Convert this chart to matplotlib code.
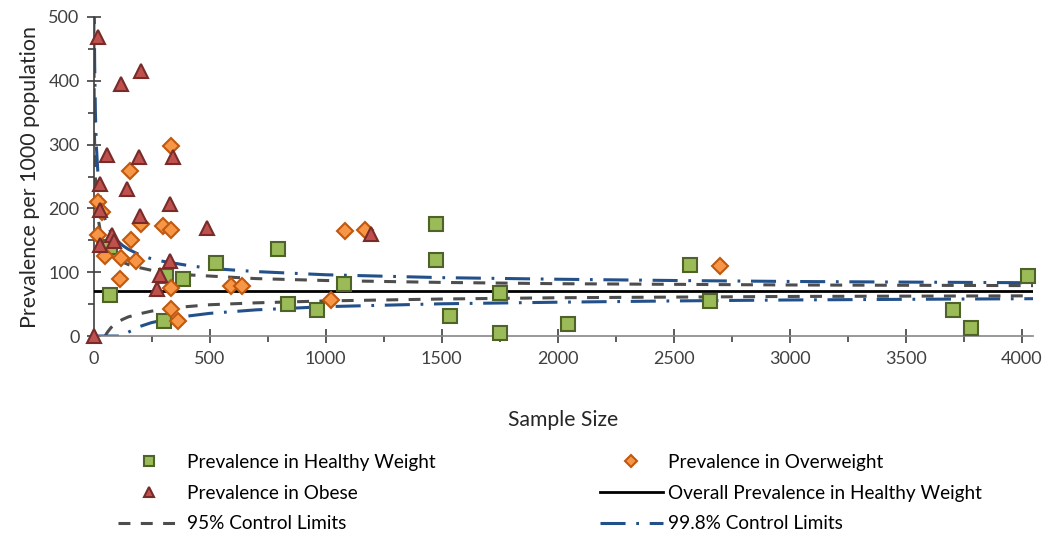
import numpy as np
import matplotlib
matplotlib.use('Agg')
import matplotlib.pyplot as plt
from matplotlib.ticker import MultipleLocator

plt.rcParams['font.family'] = ['Lato', 'DejaVu Sans']

## Points (sample size, prevalence per 1000)
healthy_n = [70, 69, 302, 314, 387, 528, 796, 839, 962, 1081, 1476, 1476, 1535, 1751, 1751, 2046, 2570, 2656, 3704, 3782, 4027]
healthy_prev = [140, 64, 24, 94, 90, 114, 137, 50, 41, 82, 175, 119, 31, 67, 5, 19, 112, 55, 41, 12, 94]

overweight_n = [335, 158, 19, 37, 206, 299, 335, 19, 160, 49, 119, 185, 113, 335, 594, 639, 332, 362, 1085, 1170, 1022, 2699]
overweight_prev = [298, 259, 210, 194, 175, 172, 166, 159, 150, 125, 122, 117, 90, 76, 78, 79, 43, 24, 165, 166, 56, 109]

obese_n = [20, 119, 206, 60, 195, 344, 29, 145, 329, 30, 202, 488, 80, 87, 27, 328, 288, 275, 4, 1194]
obese_prev = [468, 395, 416, 284, 280, 281, 239, 231, 207, 198, 188, 170, 159, 149, 143, 118, 96, 73, 0, 160]

## Overall prevalence line and funnel limits
overall_n = [0, 4050]
overall_prev = [71, 71]

limit_n = [1, 2, 3, 4, 5, 8, 12, 20, 30, 40, 50, 60, 75, 100, 125, 150, 200, 250, 300, 400,
           500, 700, 1000, 1500, 2000, 2500, 3000, 3500, 4050]
upper95 = [574, 427, 362, 323, 296, 249, 216, 184, 163, 151, 142, 136, 129, 121, 116, 112, 107, 103, 100, 96,
           94, 90, 87, 84, 82, 81, 80, 79.5, 79]
lower95 = [np.nan]*10 + [0, 6, 13, 21, 26, 30, 35, 39, 42, 46,
                         49, 52, 55, 58, 60, 61, 62, 62.5, 63]
upper998 = [864, 632, 529, 468, 426, 352, 300, 248, 216, 196, 183, 173, 163, 150, 142, 136, 127, 121, 117, 111,
            106, 101, 96, 91.5, 89, 87, 85.5, 84.5, 83.5]
lower998 = [0, 0, 0, 0, 0, 0, 0, 0, 0, 0, 0, 0, 0, 0, 0, 6, 15, 21, 25, 31,
            35.5, 41, 46, 50.5, 53, 55, 56.5, 57.5, 58.5]


fig = plt.figure(figsize=(10.46, 5.36), dpi=100)
ax = fig.add_axes([0.0894, 0.3731, 0.8986, 0.5952])

grey = '#4d4d4d'
blue = '#22508a'
lw = 2.2
dash95 = (3.9, 3.4)
dash998 = (8.2, 3.5, 0.9, 3.5)

l95, = ax.plot(limit_n, upper95, color=grey, lw=lw, dashes=dash95, dash_capstyle='butt', zorder=2)
ax.plot(limit_n, lower95, color=grey, lw=lw, dashes=dash95, dash_capstyle='butt', zorder=2)
l998, = ax.plot(limit_n, upper998, color=blue, lw=lw, dashes=dash998, dash_capstyle='butt', zorder=2)
ax.plot(limit_n, lower998, color=blue, lw=lw, dashes=dash998, dash_capstyle='butt', zorder=2)
lall, = ax.plot(overall_n, overall_prev, color='black', lw=2, zorder=3)

hw, = ax.plot(healthy_n, healthy_prev, 's', ms=10, mfc='#9bbb59', mec='#4f6228', mew=1.5, ls='none', zorder=4, clip_on=False)
ow, = ax.plot(overweight_n, overweight_prev, 'D', ms=8.5, mfc='#f79646', mec='#c0580e', mew=1.5, ls='none', zorder=5, clip_on=False)
ob, = ax.plot(obese_n, obese_prev, '^', ms=10, mfc='#c0504d', mec='#772c2a', mew=1.5, ls='none', zorder=6, clip_on=False)

ax.set_xlim(0, 4050)
ax.set_ylim(0, 500)
ax.xaxis.set_major_locator(MultipleLocator(500))
ax.xaxis.set_minor_locator(MultipleLocator(250))
ax.yaxis.set_major_locator(MultipleLocator(100))
ax.yaxis.set_minor_locator(MultipleLocator(50))
for s in ['top', 'right']:
   ax.spines[s].set_visible(False)
ax.spines['bottom'].set_color('#868686')
ax.spines['left'].set_color('#404040')
ax.spines['bottom'].set_linewidth(1.2)
ax.spines['left'].set_linewidth(1.2)
ax.tick_params(axis='x', which='major', direction='inout', length=10, width=1.2, color='#404040', labelsize=13, labelcolor='#404040', pad=6)
ax.tick_params(axis='x', which='minor', direction='out', length=4, width=1.2, color='#404040')
ax.tick_params(axis='y', which='major', direction='inout', length=10, width=1.2, color='#404040', labelsize=13, labelcolor='#404040', pad=5)
ax.tick_params(axis='y', which='minor', direction='out', length=4, width=1.2, color='#404040')

ax.set_xlabel('Sample Size', fontsize=15.2, color='#262626', labelpad=31)
ax.set_ylabel('Prevalence per 1000 population', fontsize=15.4, color='#262626', labelpad=6)

fig.legend([hw, ob, l95, ow, lall, l998],
           ['Prevalence in Healthy Weight', 'Prevalence in Obese', '95% Control Limits',
            'Prevalence in Overweight', 'Overall Prevalence in Healthy Weight', '99.8% Control Limits'],
           ncol=2, loc='center', bbox_to_anchor=(0.526, 0.080), frameon=False,
           fontsize=13.7, handlelength=3.3, handletextpad=0.3, columnspacing=8.66, labelspacing=0.72,
           markerscale=0.75)

plt.savefig('out.png', dpi=100)
